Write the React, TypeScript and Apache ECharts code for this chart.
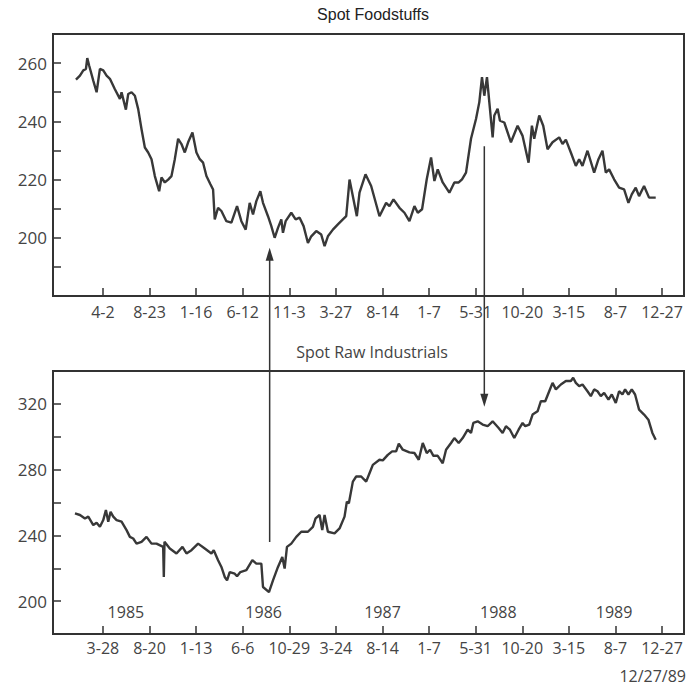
import React, { useEffect, useRef } from 'react';
import * as echarts from 'echarts';

// x values are days counted from the first labelled tick (4-2-85)
const tickDays = [0, 140, 280, 420, 560, 700, 840, 980, 1120, 1260, 1400, 1540, 1680];
const foodTickLabels = ['4-2', '8-23', '1-16', '6-12', '11-3', '3-27', '8-14', '1-7', '5-31', '10-20', '3-15', '8-7', '12-27'];
const rawTickLabels = ['3-28', '8-20', '1-13', '6-6', '10-29', '3-24', '8-14', '1-7', '5-31', '10-20', '3-15', '8-7', '12-27'];

const foodDays = [
  -81, -69, -59, -51, -47, -41, -29, -19, -9, 1, 11, 21, 36, 51, 56, 66, 69, 76, 86, 96,
  106, 116, 126, 136, 146, 156, 169, 176, 186, 196, 206, 216, 226, 236, 246, 256, 269, 281, 291, 301,
  311, 323, 331, 336, 346, 356, 371, 386, 403, 416, 429, 441, 451, 461, 473, 481, 496, 506, 516, 526,
  536, 541, 549, 566, 579, 591, 603, 616, 626, 641, 656, 666, 676, 691, 706, 721, 731, 741, 751, 763,
  771, 789, 806, 831, 851, 861, 873, 891, 906, 921, 936, 946, 959, 973, 986, 996, 1006, 1021, 1041, 1056,
  1069, 1079, 1091, 1106, 1121, 1131, 1139, 1146, 1154, 1161, 1171, 1176, 1186, 1193, 1206, 1226, 1246, 1261, 1279, 1289,
  1296, 1311, 1323, 1336, 1351, 1371, 1381, 1391, 1406, 1421, 1431, 1441, 1456, 1476, 1489, 1501, 1511, 1521, 1536, 1551,
  1566, 1579, 1589, 1601, 1611, 1626, 1641, 1661
];
const foodValues = [
  254.3, 255.7, 257.5, 258, 261.7, 259, 254, 250, 258, 257.5, 255.7, 254.6, 251, 247.7, 250, 245.4, 244, 249.4, 250, 248.8,
  244.2, 237.3, 231, 229.3, 227, 221.2, 216, 220.7, 219, 220, 221.2, 227, 234, 232.2, 229.3, 232.8, 236.2, 229.3, 227, 225.8,
  221.2, 218.4, 216.6, 206.3, 210.3, 209.2, 205.7, 205.2, 210.9, 205.7, 202.8, 212, 208, 212.6, 216, 212, 207.4, 204, 200, 203.4,
  206.3, 201.7, 205.7, 208.6, 206.3, 206.9, 204, 198.2, 200.5, 202.3, 201.1, 197.1, 200.5, 202.8, 204.6, 206.3, 207.4, 220, 214.3, 207.4,
  215.5, 221.8, 217.8, 207.4, 212, 210.9, 213.2, 210.3, 208.6, 205.7, 210.9, 208.6, 209.8, 220.1, 227.6, 219.5, 223.5, 219, 215.5, 219,
  219, 220.1, 222.4, 234, 240.8, 246.6, 255.2, 248.8, 255.2, 246.6, 234.5, 242, 244.3, 240.2, 239.6, 232.8, 238.5, 235, 225.8, 238.5,
  234, 242, 238.5, 230.4, 232.8, 234.5, 232.2, 233.7, 229.3, 224.7, 227, 224.7, 229.9, 222.4, 227, 229.9, 222.4, 223.5, 220.1, 217.2,
  216.6, 212, 214.9, 217.2, 214.3, 217.8, 213.8, 213.8
];

const rawDays = [
  -84, -69, -54, -44, -29, -19, -9, 1, 9, 16, 23, 31, 41, 56, 71, 81, 91, 101, 116, 131,
  146, 161, 181, 183, 185, 201, 221, 239, 251, 266, 286, 306, 326, 333, 346, 356, 366, 373, 381, 396,
  403, 413, 431, 449, 461, 476, 481, 499, 511, 526, 539, 546, 553, 566, 581, 596, 616, 631, 639, 651,
  659, 666, 676, 696, 711, 726, 733, 739, 751, 761, 776, 791, 801, 811, 831, 841, 856, 869, 881, 889,
  901, 921, 936, 949, 961, 973, 983, 993, 1006, 1021, 1031, 1046, 1056, 1069, 1081, 1096, 1106, 1113, 1126, 1141,
  1156, 1171, 1189, 1201, 1211, 1223, 1236, 1249, 1261, 1269, 1281, 1291, 1306, 1316, 1329, 1341, 1351, 1361, 1376, 1391,
  1406, 1413, 1421, 1431, 1441, 1456, 1466, 1476, 1486, 1496, 1506, 1519, 1529, 1541, 1551, 1561, 1569, 1579, 1589, 1599,
  1611, 1626, 1639, 1651, 1661
];
const rawValues = [
  253.4, 252.4, 250.3, 251.4, 246.3, 247.7, 245.2, 249.3, 255.4, 248.3, 254.4, 251.4, 249.3, 248.3, 243.2, 239.1, 238.1, 235, 236.1, 239.1,
  235, 235, 233, 214.7, 236.1, 232, 229, 233, 229, 231, 235, 232, 229, 231, 224.9, 220.8, 214.7, 212.6, 217.7, 216.7,
  215.1, 217.7, 218.8, 224.9, 222.8, 222.8, 208.6, 205.5, 212.6, 220.8, 226.9, 219.8, 233, 235, 239.1, 242.2, 242.2, 245.2, 250.3, 252.4,
  243.2, 252.4, 242.2, 241.2, 244.2, 251.4, 260.5, 259.5, 272.7, 275.8, 275.8, 272.7, 277.8, 282.9, 286, 285.6, 289, 291.1, 291.1, 295.8,
  292.1, 290.5, 290.1, 286, 296.2, 290.1, 292.1, 288.4, 288.4, 283.9, 292.1, 296.2, 299.2, 296.2, 299.2, 304.3, 302.3, 308.4, 309.4, 307.4,
  306.4, 309.4, 305.3, 302.3, 306.4, 304.3, 299.2, 304.3, 308.4, 306.4, 307.4, 313.5, 315.5, 321.6, 321.6, 327.7, 332.8, 328.8, 331.8, 333.9,
  333.9, 335.9, 332.8, 330.8, 331.8, 327.7, 324.7, 328.8, 327.7, 324.7, 326.7, 322.6, 325.7, 320.6, 327.7, 325.7, 328.8, 325.7, 328.8, 325.7,
  316.5, 313.5, 310.4, 302.3, 298.2
];

const yearLabels = ['1985', '1986', '1987', '1988', '1989'];
const yearDays = [69, 483, 840, 1188, 1536];
const yearLabelLevel = 193.4;

// Arrows: day, and the value where each end sits
const arrowUpDay = 501; // from raw industrials (236) up to foodstuffs (196.6)
const arrowDownDay = 1146; // from foodstuffs (231.4) down to raw industrials (318.2)

const INK = '#333333';
const LINE = '#383838';
const FONT = 'Open Sans';

function zip(a: number[], b: number[]) {
  return a.map((d, i) => [d, b[i]]);
}

export default function App() {
  const ref = useRef<HTMLDivElement>(null);
  useEffect(() => {
    if (!ref.current) return;
    const chart = echarts.init(ref.current, null, { renderer: 'svg' });

    const xAxisBase = (gridIndex: number, labels: string[], margin: number) => ({
      type: 'value',
      gridIndex,
      min: -150,
      max: 1746,
      axisLine: { show: true, onZero: false, lineStyle: { color: INK, width: 2 } },
      axisTick: { show: true, inside: true, length: 8, customValues: tickDays, lineStyle: { color: INK, width: 1.5 } },
      axisLabel: {
        customValues: tickDays,
        formatter: (v: number) => labels[Math.round(v / 140)] ?? '',
        fontFamily: FONT,
        fontSize: 16,
        color: '#444',
        margin,
      },
      splitLine: { show: false },
    });

    const yAxisBase = (gridIndex: number, max: number, interval: number, fmt: (v: number) => string) => ({
      type: 'value',
      gridIndex,
      min: 180,
      max,
      interval,
      axisLine: { show: true, onZero: false, lineStyle: { color: INK, width: 2 } },
      axisTick: { show: true, inside: true, length: 8, lineStyle: { color: INK, width: 1.5 } },
      axisLabel: { formatter: fmt, fontFamily: FONT, fontSize: 17, color: '#444', margin: 6 },
      splitLine: { show: false },
    });

    chart.setOption({
      animation: false,
      backgroundColor: '#ffffff',
      title: [
        {
          text: 'Spot Foodstuffs',
          left: 368,
          top: 1,
          textAlign: 'center',
          textStyle: { fontFamily: 'Liberation Sans', fontSize: 16, fontWeight: 'normal', color: '#222' },
        },
        {
          text: 'Spot Raw Industrials',
          left: 367,
          top: 339,
          textAlign: 'center',
          textStyle: { fontFamily: FONT, fontSize: 16, fontWeight: 'normal', color: '#444' },
        },
      ],
      grid: [
        { left: 53, right: 4, top: 34, height: 262, show: true, borderColor: INK, borderWidth: 2, backgroundColor: 'transparent' },
        { left: 53, right: 4, top: 371, height: 263, show: true, borderColor: INK, borderWidth: 2, backgroundColor: 'transparent' },
      ],
      xAxis: [xAxisBase(0, foodTickLabels, 8), xAxisBase(1, rawTickLabels, 6)],
      yAxis: [
        yAxisBase(0, 270, 10, (v: number) => (v % 20 === 0 && v !== 180 ? String(v) : '')),
        yAxisBase(1, 340, 20, (v: number) => (v % 40 === 0 ? String(v) : '')),
      ],
      series: [
        {
          type: 'line',
          xAxisIndex: 0,
          yAxisIndex: 0,
          data: zip(foodDays, foodValues),
          showSymbol: false,
          lineStyle: { color: LINE, width: 2.4 },
          silent: true,
        },
        {
          type: 'line',
          xAxisIndex: 1,
          yAxisIndex: 1,
          data: zip(rawDays, rawValues),
          showSymbol: false,
          lineStyle: { color: LINE, width: 2.4 },
          silent: true,
        },
        {
          type: 'scatter',
          xAxisIndex: 1,
          yAxisIndex: 1,
          symbolSize: 0,
          itemStyle: { opacity: 1, color: 'transparent' },
          data: yearDays.map((d, i) => ({ name: yearLabels[i], value: [d, yearLabelLevel] })),
          label: {
            show: true,
            position: 'inside',
            formatter: (p: any) => p.name,
            fontFamily: FONT,
            fontSize: 16,
            color: '#444',
            opacity: 1,
            textBorderWidth: 0,
          },
          silent: true,
        },
      ],
    });

    const upBottom = chart.convertToPixel({ gridIndex: 1 }, [arrowUpDay, 236]) as number[];
    const upTip = chart.convertToPixel({ gridIndex: 0 }, [arrowUpDay, 196.6]) as number[];
    const downStart = chart.convertToPixel({ gridIndex: 0 }, [arrowDownDay, 231.4]) as number[];
    const downTip = chart.convertToPixel({ gridIndex: 1 }, [arrowDownDay, 318.2]) as number[];
    const hw = 4;
    const hl = 13;

    chart.setOption({
      graphic: [
        {
          type: 'line',
          shape: { x1: upBottom[0], y1: upBottom[1], x2: upTip[0], y2: upTip[1] + 4 },
          style: { stroke: INK, lineWidth: 1.5 },
          silent: true,
        },
        {
          type: 'polygon',
          shape: {
            points: [
              [upTip[0], upTip[1]],
              [upTip[0] - hw, upTip[1] + hl],
              [upTip[0] + hw, upTip[1] + hl],
            ],
          },
          style: { fill: INK },
          silent: true,
        },
        {
          type: 'line',
          shape: { x1: downStart[0], y1: downStart[1], x2: downTip[0], y2: downTip[1] - 4 },
          style: { stroke: INK, lineWidth: 1.5 },
          silent: true,
        },
        {
          type: 'polygon',
          shape: {
            points: [
              [downTip[0], downTip[1]],
              [downTip[0] - hw, downTip[1] - hl],
              [downTip[0] + hw, downTip[1] - hl],
            ],
          },
          style: { fill: INK },
          silent: true,
        },
        {
          type: 'text',
          right: 2,
          top: 668,
          style: { text: '12/27/89', font: `16px "${FONT}"`, fill: '#444' },
          silent: true,
        },
      ],
    });

    return () => chart.dispose();
  }, []);

  return <div ref={ref} style={{ position: 'fixed', left: 0, top: 0, width: 688, height: 692 }} />;
}
